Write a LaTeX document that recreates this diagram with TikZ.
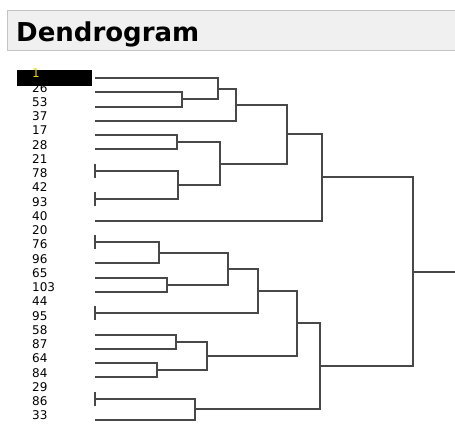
\documentclass[tikz,border=0pt]{standalone}
\usepackage{fontspec}
\newfontfamily\dendrofont{DejaVu Sans}
\definecolor{barfill}{HTML}{F0F0F0}
\definecolor{barline}{HTML}{C4C4C4}
\definecolor{linkgray}{HTML}{484848}
\definecolor{selyellow}{HTML}{E8D000}

\begin{document}
\begin{tikzpicture}[x=1pt, y=-1pt,
      titlebar/.style={draw=barline, fill=barfill, line width=1pt, anchor=north west,
                       minimum width=460pt, minimum height=40pt, inner sep=0pt},
      titletext/.style={font=\dendrofont\bfseries\fontsize{26}{30}\selectfont, anchor=base west, inner sep=0pt},
      leaf/.style={font=\dendrofont\fontsize{12}{12}\selectfont, anchor=west, inner sep=0pt},
      selbox/.style={fill=black, anchor=north west, minimum width=75pt, minimum height=15.5pt, inner sep=0pt},
      link/.style={draw=linkgray, line width=2pt}]
    \useasboundingbox (0,0) rectangle (455,424);

    % title bar
    \node[titlebar] (bar) at (7,10) {};
    \node[titletext] (title) at (16,41.7) {Dendrogram};

    % leaves, the first one is selected
    \node[selbox] (sel) at (17,70) {};
    \node[leaf, text=selyellow] (n1) at (32,73.5) {1};
    \coordinate (c1) at (95,78);
    \foreach \lab [count=\i] in {26,53,37,17,28,21,78,42,93,40,20,76,96,65,103,44,95,58,87,64,84,29,86,33}{
        \node[leaf] (n\lab) at (32,73.5+14.25*\i) {\lab};
        \coordinate (c\lab) at (95,78+14.25*\i);
    }

    % merge points
    \coordinate (mA) at (182,99.375);
    \coordinate (mB) at (218,88.69);
    \coordinate (mC) at (236,104.72);
    \coordinate (mD) at (177,142.125);
    \coordinate (mE) at (95,170.625);
    \coordinate (mF) at (95,199.125);
    \coordinate (mG) at (178,184.875);
    \coordinate (mH) at (220,163.5);
    \coordinate (mI) at (287,134.11);
    \coordinate (mJ) at (322,177.3);
    \coordinate (mK) at (95,241.875);
    \coordinate (mL) at (159,252.56);
    \coordinate (mM) at (167,284.625);
    \coordinate (mN) at (228,268.59);
    \coordinate (mO) at (95,313.125);
    \coordinate (mP) at (258,290.86);
    \coordinate (mQ) at (176,341.625);
    \coordinate (mR) at (157,370.125);
    \coordinate (mS) at (207,355.875);
    \coordinate (mT) at (297,323.37);
    \coordinate (mU) at (95,398.625);
    \coordinate (mV) at (195,409.31);
    \coordinate (mW) at (320,366.34);
    \coordinate (mX) at (413,271.8);
    \coordinate (root) at (460,271.8);

    % upper branch
    \draw[link] (c26) -| (mA) |- (c53);
    \draw[link] (c1) -| (mB) |- (mA);
    \draw[link] (mB) -| (mC) |- (c37);
    \draw[link] (c17) -| (mD) |- (c28);
    \draw[link] (c21) -- (c78);
    \draw[link] (c42) -- (c93);
    \draw[link] (mE) -| (mG) |- (mF);
    \draw[link] (mD) -| (mH) |- (mG);
    \draw[link] (mC) -| (mI) |- (mH);
    \draw[link] (mI) -| (mJ) |- (c40);

    % lower branch
    \draw[link] (c20) -- (c76);
    \draw[link] (mK) -| (mL) |- (c96);
    \draw[link] (c65) -| (mM) |- (c103);
    \draw[link] (mL) -| (mN) |- (mM);
    \draw[link] (c44) -- (c95);
    \draw[link] (mN) -| (mP) |- (mO);
    \draw[link] (c58) -| (mQ) |- (c87);
    \draw[link] (c64) -| (mR) |- (c84);
    \draw[link] (mQ) -| (mS) |- (mR);
    \draw[link] (mP) -| (mT) |- (mS);
    \draw[link] (c29) -- (c86);
    \draw[link] (mU) -| (mV) |- (c33);
    \draw[link] (mT) -| (mW) |- (mV);

    % root
    \draw[link] (mJ) -| (mX) |- (mW);
    \draw[link] (mX) -- (root);
\end{tikzpicture}
\end{document}
